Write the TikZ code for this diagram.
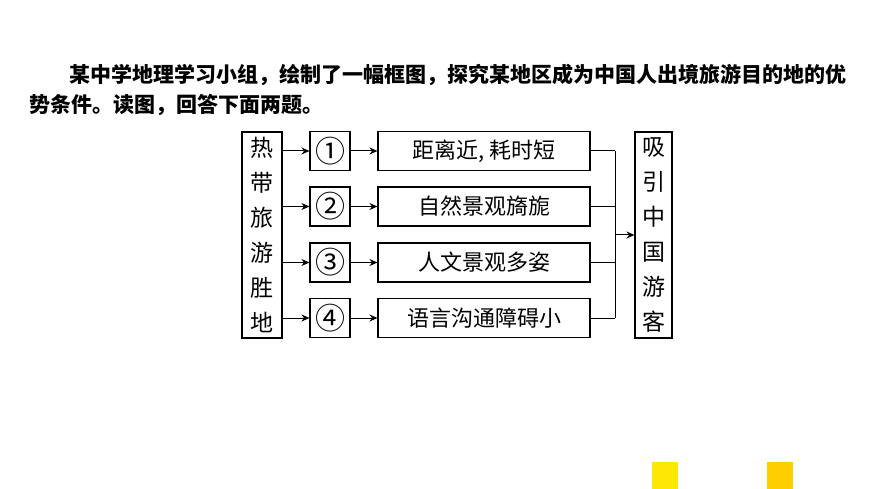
\documentclass[tikz,border=0pt]{standalone}
\usepackage{fontspec}
\setmainfont{Noto Sans CJK SC}
\usetikzlibrary{arrows.meta}
\begin{document}
\begin{tikzpicture}[x=1pt,y=-1pt,
 bx/.style={draw,line width=1.1pt,inner sep=0pt},
 arr/.style={-{Stealth[length=8pt,width=7pt]},line width=1pt},
 tx/.style={font=\fontsize{22}{22}\selectfont}]
\useasboundingbox (0,0) rectangle (870,489);
\node[anchor=west,font=\fontsize{21}{21}\selectfont\bfseries] (l1) at (66,75) {某中学地理学习小组，绘制了一幅框图，探究某地区成为中国人出境旅游目的地的优};
\node[anchor=west,font=\fontsize{21}{21}\selectfont\bfseries] (l2) at (26,105) {势条件。读图，回答下面两题。};
\node[bx,minimum width=40,minimum height=206,align=center,tx,font=\fontsize{23}{35}\selectfont] (L) at (262,235) {热\\带\\旅\\游\\胜\\地};
\node[bx,minimum width=37,minimum height=206,align=center,font=\fontsize{23}{35}\selectfont] (R) at (653.5,235) {吸\\引\\中\\国\\游\\客};
\foreach \i/\y/\c/\t in {1/151/①/{距离近, 耗时短},2/206.5/②/自然景观旖旎,3/262.5/③/人文景观多姿,4/318/④/语言沟通障碍小}{
 \node[bx,minimum width=40,minimum height=39,font=\fontsize{30}{30}\selectfont] (c\i) at (330,\y) {\c};
 \node[bx,minimum width=212,minimum height=39,tx] (t\i) at (484,\y) {\t};
 \draw[arr] (L.east |- c\i) -- (c\i);
 \draw[arr] (c\i) -- (t\i);
 \draw[line width=1pt] (t\i.east) -- (615,\y);
}
\draw[line width=1pt] (615,151) -- (615,318);
\coordinate (j) at (615,235);
\draw[arr] (j) -- (R.west |- j);
\fill[yellow!90!orange] (652,462) rectangle (678,489);
\fill[orange!30!yellow!95!red] (767,462) rectangle (793,489);
\end{tikzpicture}
\end{document}
